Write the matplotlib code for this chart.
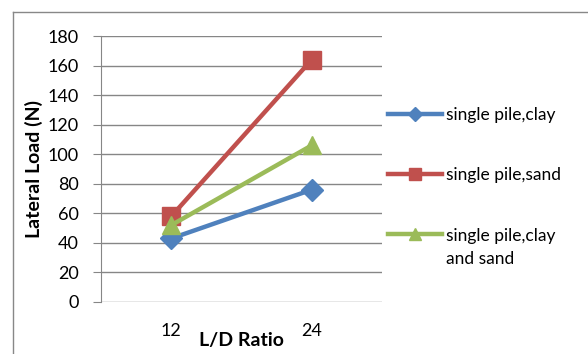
from matplotlib import pyplot as plt
from matplotlib.lines import Line2D
import numpy as np

ratios = ["12", "24"]
clay = [43, 76]
sand = [58, 164]
clay_sand = [52, 106]

series_names = ["single pile,clay", "single pile,sand", "single pile,clay"]
extra_line = "and sand"
colors = ["#4F81BD", "#C0504D", "#9BBB59"]
markers = ["D", "s", "^"]
marker_sizes = [11.5, 13, 13]
legend_marker_sizes = [7, 9, 8]

plt.rcParams["font.family"] = ["Lato", "DejaVu Sans"]

fig = plt.figure(figsize=(5.88, 3.54), dpi=100)
ax = fig.add_axes([0.1718, 0.1469, 0.4779, 0.7514])

x = np.arange(len(ratios))
for vals, name, c, m, ms in zip([clay, sand, clay_sand], series_names, colors, markers, marker_sizes):
	ax.plot(x, vals, color=c, lw=3.2, marker=m, ms=ms, label=name, solid_capstyle="round")

ax.set_xlim(-0.5, 1.5)
ax.set_ylim(0, 180)
ax.set_yticks(np.arange(0, 181, 20))
ax.set_xticks(x)
ax.set_xticklabels(ratios)
ax.yaxis.grid(True, color="#868686", lw=1)
ax.set_axisbelow(True)
for s in ["top", "right", "bottom"]:
	ax.spines[s].set_visible(False)
ax.spines["left"].set_color("#868686")
ax.tick_params(axis="y", length=6, color="#868686", labelsize=13, pad=10)
ax.tick_params(axis="x", length=0, labelsize=13, pad=15)
ax.set_ylabel("Lateral Load (N)", fontsize=14, fontweight="bold", labelpad=3)
ax.set_xlabel("L/D Ratio", fontsize=14, fontweight="bold", labelpad=-5)

handles = [Line2D([], [], color=c, lw=3.2, marker=m, ms=ms) for c, m, ms in zip(colors, markers, legend_marker_sizes)]
leg = fig.legend(handles, series_names, loc="upper left", bbox_to_anchor=(388 / 588, 1 - 107 / 354),
	frameon=False, fontsize=12.5, handlelength=3.1, handletextpad=0.25, labelspacing=2.55, borderpad=0,
	borderaxespad=0)

# second line of the third legend label, placed under its first line
fig.canvas.draw()
bb = leg.get_texts()[2].get_window_extent()
fig.text(bb.x0 / 588, (bb.y0 - 23) / 354, extra_line, fontsize=12.5, va="bottom", ha="left")

# outer chart frame
fig.add_artist(Line2D([13 / 588, 13 / 588], [0, 1 - 12 / 354], color="#888888", lw=1))
fig.add_artist(Line2D([13 / 588, 1], [1 - 12 / 354, 1 - 12 / 354], color="#888888", lw=1))

fig.savefig("out.png", dpi=100)
